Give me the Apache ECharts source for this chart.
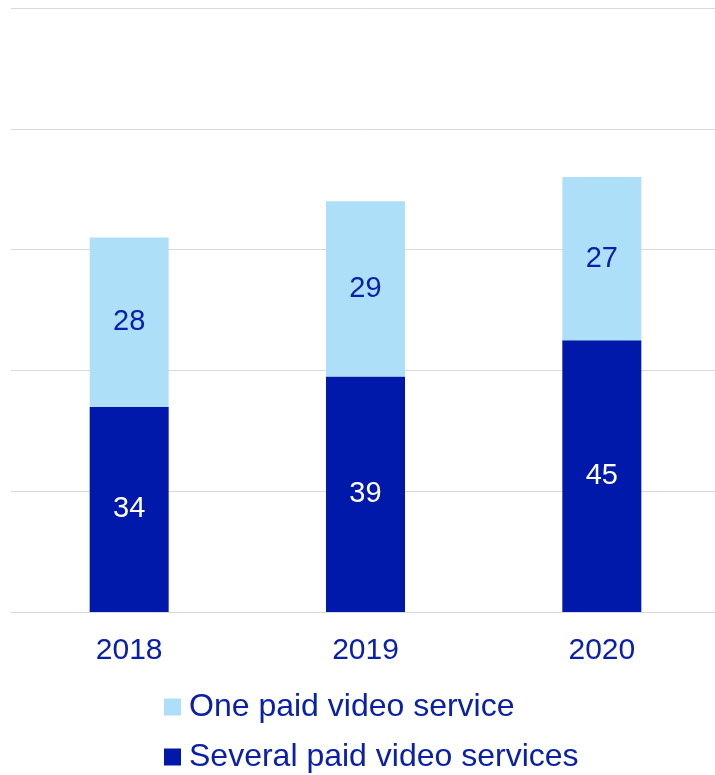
<!DOCTYPE html>
<html>
<head>
<meta charset="utf-8">
<script src="https://cdn.jsdelivr.net/npm/echarts@6/dist/echarts.min.js"></script>
<style>
  html, body { margin: 0; padding: 0; background: #fff; }
  #chart { width: 715px; height: 775px; }
</style>
</head>
<body>
<div id="chart"></div>
<script>
// Paid video service subscriptions by year (stacked)
const years = ['2018', '2019', '2020'];
const severalServices = [34, 39, 45];
const oneService = [28, 29, 27];
const seriesNames = ['Several paid video services', 'One paid video service'];

const dark = '#0019AA';
const light = '#ADE0F8';
const textBlue = '#0A20A8';
const font = 'Liberation Sans, Arial, sans-serif';

function legendRow(name, top) {
  return {
    orient: 'horizontal',
    left: 164,
    top: top,
    padding: 0,
    itemWidth: 17,
    itemHeight: 17,
    itemGap: 0,
    icon: 'rect',
    selectedMode: false,
    data: [name],
    textStyle: { color: textBlue, fontSize: 32, fontFamily: font, lineHeight: 36, padding: [0, 0, 0, 3] }
  };
}

const chart = echarts.init(document.getElementById('chart'));
chart.setOption({
  animation: false,
  grid: { left: 11, width: 709, top: 8, bottom: 163, outerBoundsMode: 'none', containLabel: false },
  xAxis: {
    type: 'category',
    data: years,
    axisLine: { show: true, lineStyle: { color: '#d9d9d9', width: 1 } },
    axisTick: { show: false },
    axisLabel: { color: textBlue, fontSize: 30, fontFamily: font, margin: 24 }
  },
  yAxis: {
    type: 'value',
    min: 0, max: 100, interval: 20,
    axisLabel: { show: false },
    axisLine: { show: false },
    axisTick: { show: false },
    splitLine: { lineStyle: { color: '#d9d9d9', width: 1 } }
  },
  legend: [legendRow(seriesNames[1], 689), legendRow(seriesNames[0], 739)],
  series: [
    {
      name: seriesNames[0],
      type: 'bar',
      stack: 'total',
      barWidth: 79,
      data: severalServices,
      itemStyle: { color: dark },
      label: { show: true, position: 'inside', color: '#ffffff', fontSize: 29, fontFamily: font }
    },
    {
      name: seriesNames[1],
      type: 'bar',
      stack: 'total',
      barWidth: 79,
      data: oneService,
      itemStyle: { color: light },
      label: { show: true, position: 'inside', color: textBlue, fontSize: 29, fontFamily: font }
    }
  ]
});
</script>
</body>
</html>
